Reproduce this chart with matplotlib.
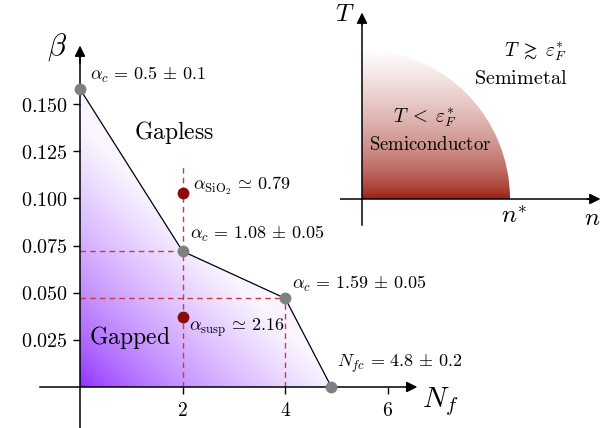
import numpy as np
import matplotlib
matplotlib.use('Agg')
import matplotlib.pyplot as plt
from matplotlib.patches import Polygon, Wedge

plt.rcParams['mathtext.fontset'] = 'cm'
plt.rcParams['font.family'] = 'DejaVu Serif'

# phase boundary (N_f, beta)
nf_crit = [0.0, 2.0, 4.0, 4.9]
beta_crit = [0.158, 0.072, 0.047, 0.0]
crit_labels = [r'$\alpha_c \,=\, 0.5 \,\pm\, 0.1$', r'$\alpha_c \,=\, 1.08 \,\pm\, 0.05$',
               r'$\alpha_c \,=\, 1.59 \,\pm\, 0.05$', r'$N_{fc} \,=\, 4.8 \,\pm\, 0.2$']

# materials
nf_mat = [2.0, 2.0]
beta_mat = [0.103, 0.037]
mat_labels = [r'$\alpha_{\mathrm{SiO_2}} \,\simeq\, 0.79$', r'$\alpha_{\mathrm{susp}} \,\simeq\, 2.16$']

yticks = [0.025, 0.050, 0.075, 0.100, 0.125, 0.150]
ytick_labels = ['$0.025$', '$0.050$', '$0.075$', '$0.100$', '$0.125$', '$0.150$']
xticks = [2, 4, 6]
xtick_labels = ['$2$', '$4$', '$6$']

purple = np.array([140, 40, 255]) / 255
darkred = np.array([150, 18, 5]) / 255

fig = plt.figure(figsize=(6.13, 4.28), dpi=100)
ax = fig.add_axes([0, 0, 1, 1])
sx, sy = 51.3, 1886.0   # pixel per unit
ax.set_xlim(-80 / sx, 533 / sx)
ax.set_ylim(-41 / sy, 387 / sy)
ax.patch.set_alpha(0)

# gradient fill of gapped region
xg = np.linspace(0, 5, 300)
yg = np.linspace(0, 0.16, 300)
X, Y = np.meshgrid(xg, yg)
t = 0.95 * np.clip((X * sx + Y * sy) / 260, 0, 1) ** 0.7
img = purple[None, None, :] * (1 - t[..., None]) + t[..., None]
im = ax.imshow(img, extent=[0, 5, 0, 0.16], origin='lower', aspect='auto', zorder=1)
poly = Polygon(list(zip([0] + nf_crit, [0] + beta_crit)), closed=True,
               transform=ax.transData, facecolor='none', edgecolor='none')
ax.add_patch(poly)
im.set_clip_path(poly)
ax.plot(nf_crit, beta_crit, color='k', lw=0.9, zorder=3)

# dashed guides
dc = '#c83c3c'
ax.plot([2, 2], [0, 0.117], ls='--', color=dc, lw=1, dashes=(4, 3), zorder=2)
ax.plot([0, 2], [beta_crit[1]] * 2, ls='--', color=dc, lw=1, dashes=(4, 3), zorder=2)
ax.plot([0, 4], [beta_crit[2]] * 2, ls='--', color=dc, lw=1, dashes=(4, 3), zorder=2)
ax.plot([4, 4], [0, beta_crit[2]], ls='--', color=dc, lw=1, dashes=(4, 3), zorder=2)

ax.plot(nf_crit, beta_crit, 'o', color='#808080', ms=7.5, zorder=5, clip_on=False)
ax.plot(nf_mat, beta_mat, 'o', color='#8b0a0a', ms=7.5, zorder=5)

# labels
fs = 13
ax.text(0.195, 0.1654, crit_labels[0], fontsize=fs, va='center')
ax.text(2.14, 0.0811, crit_labels[1], fontsize=fs, va='center')
ax.text(4.13, 0.0546, crit_labels[2], fontsize=fs, va='center')
ax.text(5.01, 0.0122, crit_labels[3], fontsize=fs, va='center')
ax.text(2.2, 0.1066, mat_labels[0], fontsize=fs, va='center')
ax.text(2.12, 0.0313, mat_labels[1], fontsize=fs, va='center')
ax.text(1.83, 0.1352, r'$\mathrm{Gapless}$', fontsize=17, ha='center', va='center')
ax.text(0.97, 0.026, r'$\mathrm{Gapped}$', fontsize=17, ha='center', va='center')
ax.text(-0.45, 0.180, r'$\beta$', fontsize=22, ha='center', va='center')
ax.text(7.02, -0.008, r'$N_f$', fontsize=21, ha='center', va='center')

# axes through origin
for s in ['top', 'right']:
    ax.spines[s].set_visible(False)
ax.spines['left'].set_position(('data', 0))
ax.spines['bottom'].set_position(('data', 0))
ax.spines['left'].set_bounds(-41 / sy, 0.180)
ax.spines['bottom'].set_bounds(-0.78, 6.5)
ax.spines['left'].set_linewidth(1.1)
ax.spines['bottom'].set_linewidth(1.1)
ax.annotate('', xy=(6.63, 0), xytext=(6.3, 0),
            arrowprops=dict(arrowstyle='-|>', color='k', lw=1.1, mutation_scale=16))
ax.annotate('', xy=(0, 0.1825), xytext=(0, 0.17),
            arrowprops=dict(arrowstyle='-|>', color='k', lw=1.1, mutation_scale=16))
ax.set_yticks(yticks)
ax.set_yticklabels(ytick_labels, fontsize=14.5)
ax.set_xticks(xticks)
ax.set_xticklabels(xtick_labels, fontsize=14)
ax.tick_params(direction='out', length=5, width=1)
ax.tick_params(axis='x', pad=6)

# inset: T-n diagram
ax2 = fig.add_axes([340 / 613, 200 / 428, 265 / 613, 223 / 428])
px2, py2 = 148.0, 149.0
ax2.set_xlim(-22 / px2, 243 / px2)
ax2.set_ylim(-29 / py2, 194 / py2)
ax2.patch.set_alpha(0)
for s in ax2.spines.values():
    s.set_visible(False)
ax2.set_xticks([])
ax2.set_yticks([])

n_star = 1.0
tg = np.linspace(0, 1, 300)[:, None]
sfrac = tg ** 0.6
img2 = darkred[None, None, :] * (1 - sfrac[..., None]) + sfrac[..., None]
img2 = np.repeat(img2, 10, axis=1)
im2 = ax2.imshow(img2, extent=[0, n_star, 0, 1], origin='lower', aspect='auto')
wedge = Wedge((0, 0), n_star, 0, 90, transform=ax2.transData,
              facecolor='none', edgecolor='none')
ax2.add_patch(wedge)
im2.set_clip_path(wedge)

ax2.plot([-0.149, 1.55], [0, 0], color='k', lw=1.1)
ax2.plot([0, 0], [-0.174, 1.2], color='k', lw=1.1)
ax2.annotate('', xy=(1.63, 0), xytext=(1.5, 0),
             arrowprops=dict(arrowstyle='-|>', color='k', lw=1.1, mutation_scale=16))
ax2.annotate('', xy=(0, 1.27), xytext=(0, 1.15),
             arrowprops=dict(arrowstyle='-|>', color='k', lw=1.1, mutation_scale=16))
ax2.text(-0.115, 1.235, r'$T$', fontsize=18, ha='center', va='center')
ax2.text(1.554, -0.128, r'$n$', fontsize=18, ha='center', va='center')
ax2.text(1.03, -0.115, r'$n^{*}$', fontsize=18, ha='center', va='center')
ax2.text(0.426, 0.544, r'$T \;<\; \varepsilon_F^{*}$', fontsize=14, ha='center', va='center')
ax2.text(0.46, 0.362, r'$\mathrm{Semiconductor}$', fontsize=13.5, ha='center', va='center')
ax2.text(1.17, 0.987, r'$T \;\gtrsim\; \varepsilon_F^{*}$', fontsize=14, ha='center', va='center')
ax2.text(1.07, 0.812, r'$\mathrm{Semimetal}$', fontsize=14.5, ha='center', va='center')

fig.savefig('out.png', dpi=100)
